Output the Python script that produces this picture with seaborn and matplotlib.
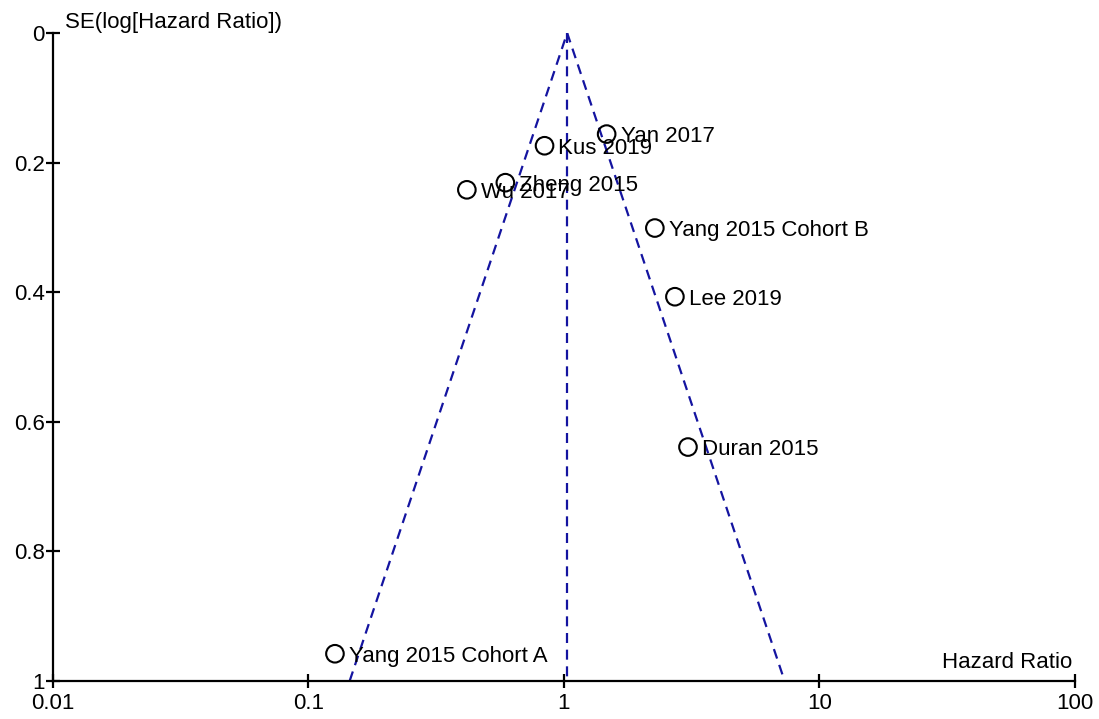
#!/usr/bin/env python3
"""Funnel plot of hazard ratios vs standard error (log scale)."""
import pandas as pd
import matplotlib
matplotlib.use('Agg')
import matplotlib.pyplot as plt
from matplotlib.ticker import FixedLocator, FixedFormatter, NullLocator
import seaborn as sns

# study estimates
studies = ['Yan 2017', 'Kus 2019', 'Zheng 2015', 'Wu 2017', 'Yang 2015 Cohort B',
           'Lee 2019', 'Duran 2015', 'Yang 2015 Cohort A']
hazard_ratio = [1.47, 0.84, 0.59, 0.417, 2.27, 2.72, 3.06, 0.127]
se_log_hr = [0.156, 0.174, 0.231, 0.242, 0.301, 0.407, 0.639, 0.958]

# funnel (pseudo 95% limits) and pooled estimate
funnel_hr = [0.145, 1.03, 7.31]
funnel_se = [1.0, 0.0, 1.0]
pooled_hr = [1.03, 1.03]
pooled_se = [0.0, 1.0]

x_ticks = [0.01, 0.1, 1, 10, 100]
x_tick_labels = ['0.01', '0.1', '1', '10', '100']
y_ticks = [0, 0.2, 0.4, 0.6, 0.8, 1]
y_tick_labels = ['0', '0.2', '0.4', '0.6', '0.8', '1']

df = pd.DataFrame({'study': studies, 'hr': hazard_ratio, 'se': se_log_hr})
funnel = pd.DataFrame({'hr': funnel_hr, 'se': funnel_se})
pooled = pd.DataFrame({'hr': pooled_hr, 'se': pooled_se})

sns.set_theme(style='white')
plt.rcParams['font.family'] = ['Liberation Sans', 'DejaVu Sans']
plt.rcParams['text.color'] = 'black'
plt.rcParams['xtick.color'] = 'black'
plt.rcParams['ytick.color'] = 'black'

fig = plt.figure(figsize=(10.99, 7.19), dpi=100)
ax = fig.add_axes([0.0482, 0.0529, 0.9298, 0.9012])

line_color = '#1414a0'
sns.lineplot(data=funnel, x='hr', y='se', sort=False, estimator=None, ax=ax,
             color=line_color, lw=1.6, dashes=False, linestyle=(0, (4.5, 3)))
sns.lineplot(data=pooled, x='hr', y='se', sort=False, estimator=None, ax=ax,
             color=line_color, lw=1.6, dashes=False, linestyle=(0, (4.5, 3)))

sns.scatterplot(data=df, x='hr', y='se', ax=ax, s=160, marker='o',
                facecolor='none', edgecolor='black', linewidth=1.5, zorder=5,
                clip_on=False)

for name, hr, se in zip(studies, hazard_ratio, se_log_hr):
    ax.annotate(name, (hr, se), xytext=(10, -2), textcoords='offset points',
                fontsize=16, va='center', ha='left', color='black', zorder=6)

ax.set_xscale('log')
ax.set_xlim(0.01, 100)
ax.set_ylim(1, 0)
ax.xaxis.set_major_locator(FixedLocator(x_ticks))
ax.xaxis.set_major_formatter(FixedFormatter(x_tick_labels))
ax.xaxis.set_minor_locator(NullLocator())
ax.set_yticks(y_ticks)
ax.set_yticklabels(y_tick_labels)

ax.set_xlabel('')
ax.set_ylabel('')
for side in ['top', 'right']:
    ax.spines[side].set_visible(False)
for side in ['left', 'bottom']:
    ax.spines[side].set_color('black')
    ax.spines[side].set_linewidth(1.6)

ax.tick_params(axis='both', which='major', direction='inout', length=10,
               width=1.6, labelsize=16, left=True, bottom=True)
ax.tick_params(axis='y', pad=1)
ax.tick_params(axis='x', pad=4)

ax.text(0.012, 1.0, 'SE(log[Hazard Ratio])', transform=ax.transAxes,
        fontsize=16, ha='left', va='bottom')
ax.text(0.997, 0.012, 'Hazard Ratio', transform=ax.transAxes, fontsize=16,
        ha='right', va='bottom')

fig.savefig('out.png', dpi=100)
